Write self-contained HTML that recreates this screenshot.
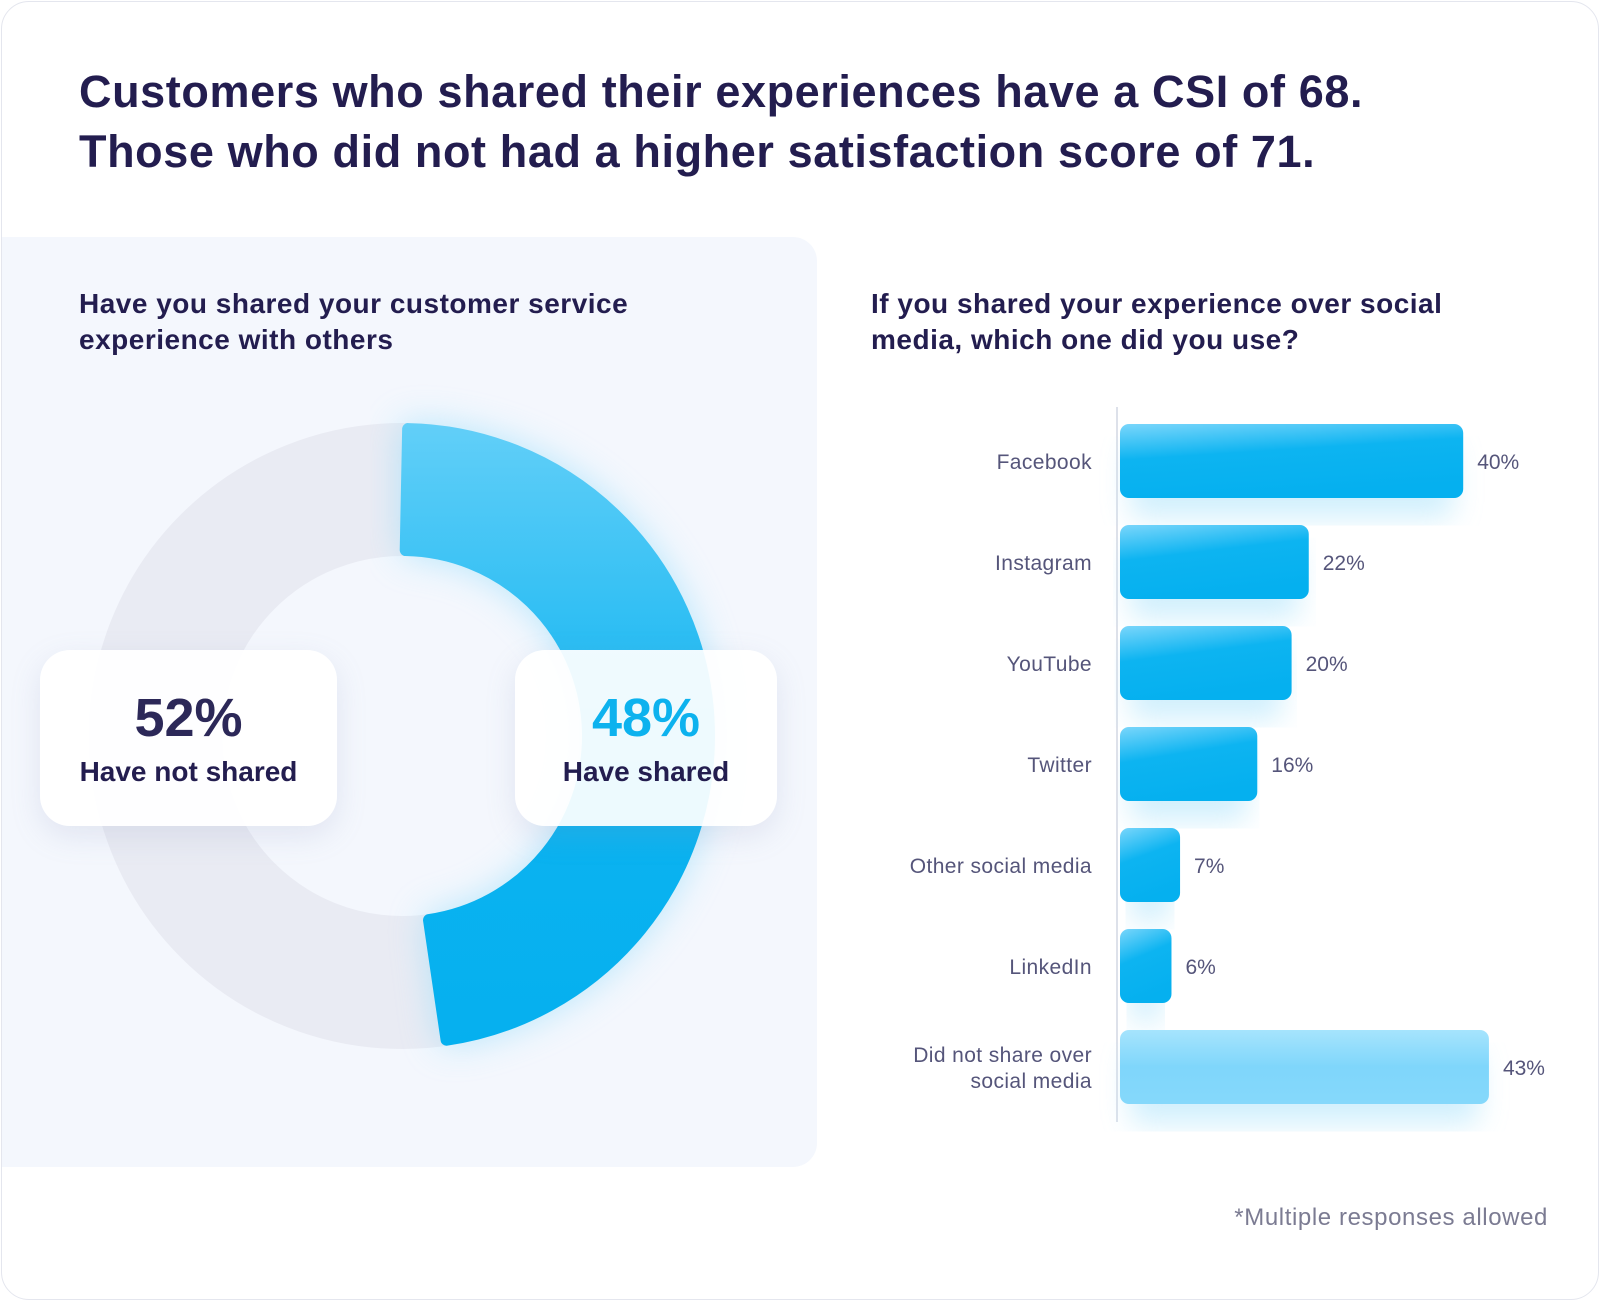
<!DOCTYPE html>
<html><head><meta charset="utf-8"><style>
body{margin:0;width:1600px;height:1301px;background:#fff;font-family:"Liberation Sans",sans-serif;overflow:hidden}
#card{position:absolute;left:1px;top:1px;width:1596px;height:1297px;border:1px solid #e4e6ee;border-radius:28px;background:#fff;overflow:hidden}
h1{position:absolute;left:77px;top:60px;margin:0;font-size:45px;line-height:60px;color:#231d4f;font-weight:bold;letter-spacing:0.6px}
.sub{position:absolute;margin:0;font-size:28px;line-height:36px;color:#231d4f;font-weight:bold;letter-spacing:0.5px}
#panel{position:absolute;left:0;top:235px;width:815px;height:930px;background:#f4f7fd;border-radius:0 24px 24px 0}
.box{position:absolute;top:648px;height:176px;background:rgba(255,255,255,0.93);border-radius:30px;box-shadow:0 10px 30px rgba(140,150,190,0.18);text-align:center}
.box .p{font-size:54px;font-weight:bold;margin-top:38px;line-height:60px}
.box .l{font-size:28px;font-weight:bold;color:#231d4f;margin-top:8px}
#foot{position:absolute;right:50px;top:1202px;font-size:24px;color:#7b7b92;letter-spacing:0.6px}
</style></head><body>
<div id="card">
<h1>Customers who shared their experiences have a CSI of 68.<br>Those who did not had a higher satisfaction score of 71.</h1>
<div id="panel"></div>
<p class="sub" style="left:77px;top:284px">Have you shared your customer service<br>experience with others</p>
<p class="sub" style="left:869px;top:284px">If you shared your experience over social<br>media, which one did you use?</p>
<svg id="donut" width="815" height="1165" style="position:absolute;left:0;top:0">
<defs>
<linearGradient id="bg1" x1="0" y1="0" x2="0" y2="1" gradientUnits="userSpaceOnUse" gradientTransform="translate(0,421) scale(1,626)"><stop offset="0" stop-color="#62cff8"/><stop offset="0.55" stop-color="#0cb3f0"/><stop offset="1" stop-color="#05b0ef"/></linearGradient>
<filter id="blur"><feGaussianBlur stdDeviation="18"/></filter>
</defs>
<g id="dg"></g>
</svg>
<div class="box" style="left:38px;width:297px"><div class="p" style="color:#2c2858">52%</div><div class="l">Have not shared</div></div>
<div class="box" style="left:513px;width:262px"><div class="p" style="color:#0db2ee">48%</div><div class="l">Have shared</div></div>
<svg id="bars" width="1600" height="1301" style="position:absolute;left:0;top:0">
<defs>
<linearGradient id="bb" x1="0" y1="0" x2="0.3" y2="1"><stop offset="0" stop-color="#7ad6fb"/><stop offset="0.45" stop-color="#0db4f1"/><stop offset="1" stop-color="#05b0ef"/></linearGradient>
<linearGradient id="bl" x1="0" y1="0" x2="0" y2="1"><stop offset="0" stop-color="#a6e4fd"/><stop offset="0.5" stop-color="#7fd6fb"/><stop offset="1" stop-color="#85d8fb"/></linearGradient>
<filter id="bblur"><feGaussianBlur stdDeviation="14"/></filter>
</defs>
<line x1="1115" y1="405" x2="1115" y2="1120" stroke="#dde1ea" stroke-width="2"/>
<g id="bg"></g>
</svg>
<div id="foot">*Multiple responses allowed</div>
</div>
<script>
const donutLabels=["Have shared","Have not shared"];
const donutValues=[48,52];
const categories=["Facebook","Instagram","YouTube","Twitter","Other social media","LinkedIn","Did not share over|social media"];
const values=[40,22,20,16,7,6,43];
const NS="http://www.w3.org/2000/svg";
function mk(t,a,p){const e=document.createElementNS(NS,t);for(const k in a)e.setAttribute(k,a[k]);p.appendChild(e);return e;}
const cx=400,cy=734,R=313,r=180;
const dg=document.getElementById('dg');
const total=donutValues.reduce((a,b)=>a+b,0);
const ring=mk('circle',{cx:cx,cy:cy,r:(R+r)/2,fill:'none',stroke:'#e9ebf3','stroke-width':R-r},dg);


function arc(a0,a1,R1,r1){const p=(rad,a)=>[cx+rad*Math.sin(a),cy-rad*Math.cos(a)];const L=(a1-a0)>Math.PI?1:0;
const [x0,y0]=p(R1,a0),[x1,y1]=p(R1,a1),[x2,y2]=p(r1,a1),[x3,y3]=p(r1,a0);
return `M${x0},${y0}A${R1},${R1} 0 ${L} 1 ${x1},${y1}L${x2},${y2}A${r1},${r1} 0 ${L} 0 ${x3},${y3}Z`;}
const a1=donutValues[0]/total*2*Math.PI;
const glow=mk('path',{d:arc(0,a1,R,r),fill:'#8fdcfb',filter:'url(#blur)',opacity:0.6},dg);


const seg=mk('path',{d:arc(0.02,a1-0.02,R-6,r+6),fill:'url(#bg1)','stroke-linejoin':'round',stroke:'url(#bg1)','stroke-width':12},dg);


const x0=1118,pxPer=8.58,top0=422,step=101,bh=74;
const bgp=document.getElementById('bg');
categories.forEach((c,i)=>{
 const y=top0+i*step,w=values[i]*pxPer,last=i===categories.length-1;
 const sh=mk('rect',{x:x0+10,y:y+20,width:Math.max(w-20,10),height:bh,rx:10,fill:'#bde9fc',filter:'url(#bblur)',opacity:0.7},bgp);
 
 
 const b=mk('rect',{x:x0,y:y,width:w,height:bh,rx:9,fill:last?'url(#bl)':'url(#bb)'},bgp);
 
 
 const lines=c.split('|');
 lines.forEach((ln,j)=>{
  const t=mk('text',{x:1090,y:y+bh/2+8+(lines.length>1?(j-0.5)*26:0),'text-anchor':'end','font-size':21,fill:'#55557a','font-family':'Liberation Sans, sans-serif','letter-spacing':0.4},bgp);
  t.textContent=ln;
  
  
 });
 const v=mk('text',{x:x0+w+14,y:y+bh/2+8,'font-size':21,fill:'#55557a','font-family':'Liberation Sans, sans-serif'},bgp);
 v.textContent=values[i]+'%';
 
 
});
</script>
</body></html>
